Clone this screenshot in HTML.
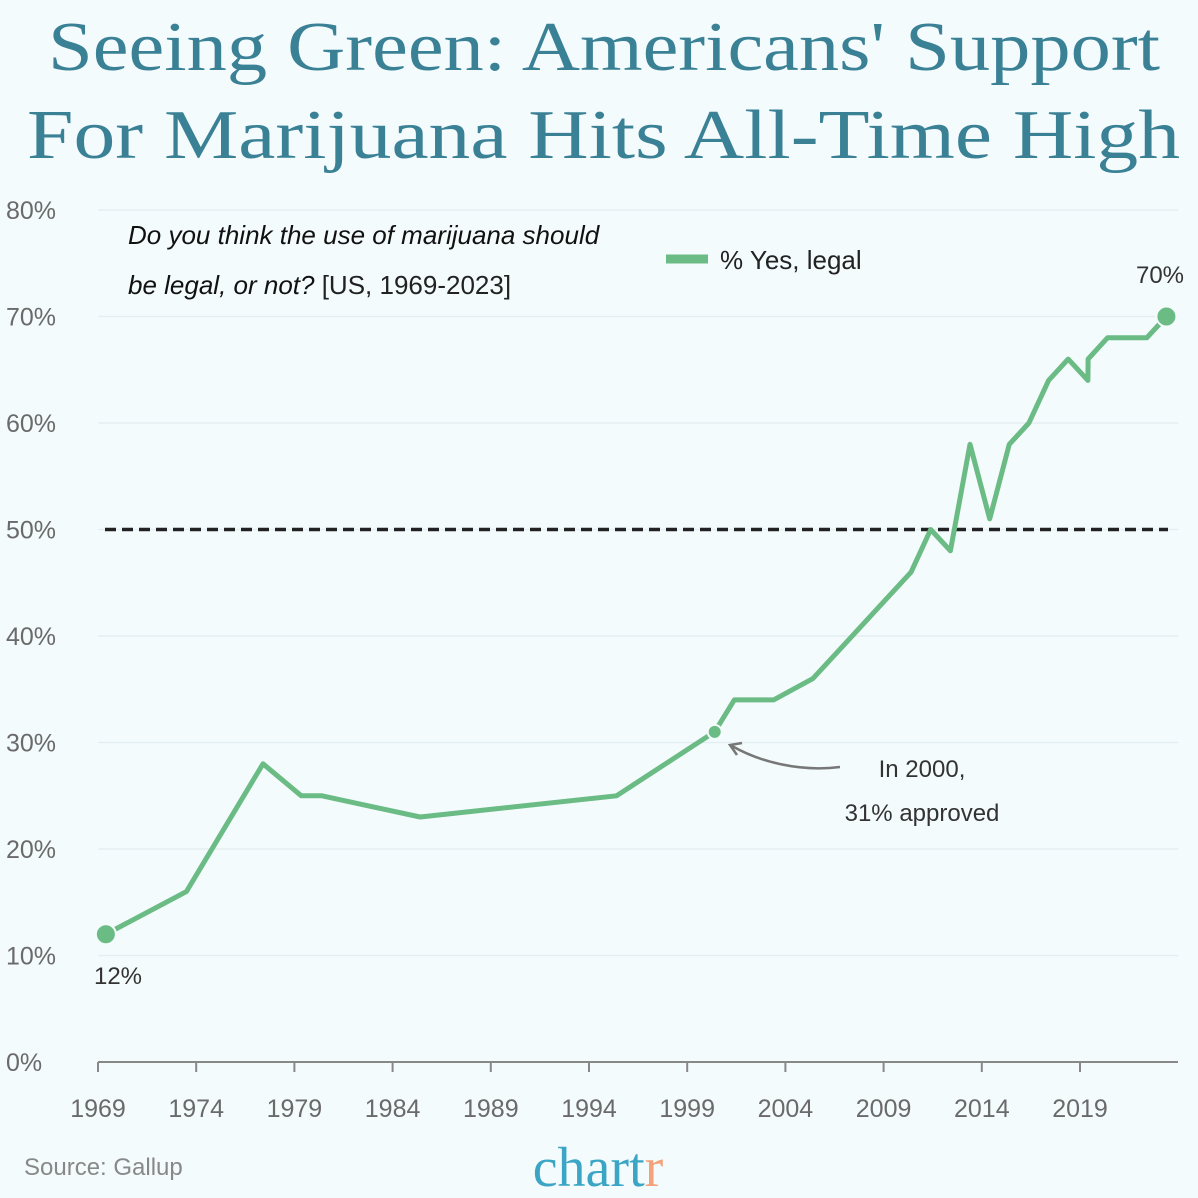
<!DOCTYPE html>
<html><head><meta charset="utf-8"><style>
html,body{margin:0;padding:0;background:#f3fbfd;}
svg{display:block;font-family:"Liberation Sans",sans-serif;}
</style></head><body>
<svg id="chart" width="1198" height="1198" viewBox="0 0 1198 1198">
<rect width="1198" height="1198" fill="#f3fbfd"/>
<g fill="#3a8196" font-family="Liberation Serif, serif" font-size="70">
<text x="48" y="70" textLength="1112" lengthAdjust="spacingAndGlyphs">Seeing Green: Americans' Support</text>
<text x="27" y="158" textLength="1153" lengthAdjust="spacingAndGlyphs">For Marijuana Hits All-Time High</text>
</g>
<g id="grid"></g>
<g id="yaxis"></g>
<g id="xaxis"></g>
<line id="ref50" stroke="#222" stroke-width="3.5" stroke-dasharray="11,6"/>
<path id="line" fill="none" stroke="#6bbb85" stroke-width="5" stroke-linejoin="round"/>
<g id="dots"></g>
<text x="128" y="244" font-size="26" font-style="italic" fill="#111">Do you think the use of marijuana should</text>
<text x="128" y="294" font-size="26" fill="#222"><tspan font-style="italic" fill="#111">be legal, or not?</tspan> [US, 1969-2023]</text>
<line x1="666" y1="259" x2="708" y2="259" stroke="#6bbb85" stroke-width="9"/>
<text x="720" y="269" font-size="26" fill="#222">% Yes, legal</text>
<text x="1160" y="283" font-size="24" fill="#333" text-anchor="middle">70%</text>
<text x="118" y="984" font-size="24" fill="#333" text-anchor="middle">12%</text>
<path d="M840 767 C800 772 760 762 732 746" fill="none" stroke="#777" stroke-width="2.5"/>
<path d="M742 743 L730 745 L737 755" fill="none" stroke="#777" stroke-width="2.5"/>
<text x="922" y="777" font-size="24" fill="#333" text-anchor="middle">In 2000,</text>
<text x="922" y="821" font-size="24" fill="#333" text-anchor="middle">31% approved</text>
<text x="24" y="1175" font-size="24" fill="#888">Source: Gallup</text>
<text x="598" y="1186" font-size="56" fill="#3aa5c4" text-anchor="middle" font-family="Liberation Serif, serif">chart<tspan fill="#f3a27a">r</tspan></text>
</svg>
<script>
const years = [1969.4,1973.5,1977.4,1979.35,1980.4,1985.4,1995.4,2000.4,2001.4,2003.4,2005.4,2010.4,2011.4,2012.4,2013.4,2014.4,2015.4,2016.4,2017.4,2018.4,2019.4,2019.41,2020.4,2022.4,2023.4];
const values = [12,16,28,25,25,23,25,31,34,34,36,46,50,48,58,51,58,60,64,66,64,66,68,68,70];
const yTicks = [0,10,20,30,40,50,60,70,80];
const xTicks = [1969,1974,1979,1984,1989,1994,1999,2004,2009,2014,2019];
const highlightIdx = [0,7,24];
const X = y => 98 + (y - 1969) * 19.64;
const Y = v => 1062 - v * 10.65;
const NS = "http://www.w3.org/2000/svg";
function mk(tag, attrs, parent, txt){const e=document.createElementNS(NS,tag);for(const k in attrs)e.setAttribute(k,attrs[k]);if(txt!==undefined)e.textContent=txt;parent.appendChild(e);return e;}
const grid=document.getElementById('grid'), ya=document.getElementById('yaxis'), xa=document.getElementById('xaxis');
yTicks.forEach(t=>{
  if(t>0){const g=mk('line',{x1:98,x2:1178,y1:Y(t),y2:Y(t),stroke:'#e4eef0','stroke-width':1.5},grid);
  
  }
  const l=mk('text',{x:6,y:Y(t)+9,'font-size':25,fill:'#6a6a6a'},ya,t+'%');
  
  
});
const ax=mk('line',{x1:98,x2:1178,y1:1062,y2:1062,stroke:'#888','stroke-width':2},xa);


xTicks.forEach(t=>{
  const tk=mk('line',{x1:X(t),x2:X(t),y1:1062,y2:1072,stroke:'#888','stroke-width':2},xa);
  
  
  const l=mk('text',{x:X(t),y:1117,'font-size':25,fill:'#6a6a6a','text-anchor':'middle'},xa,String(t));
  
  
});
const r=document.getElementById('ref50');
r.setAttribute('x1',105);r.setAttribute('x2',1168);r.setAttribute('y1',Y(50));r.setAttribute('y2',Y(50));
document.getElementById('line').setAttribute('d',years.map((y,i)=>(i?'L':'M')+X(y).toFixed(1)+' '+Y(values[i]).toFixed(1)).join(' '));
const dots=document.getElementById('dots');
highlightIdx.forEach((i,k)=>{
  const c=mk('circle',{cx:X(years[i]),cy:Y(values[i]),r:k===1?7:10,fill:'#6bbb85',stroke:'#f3fbfd','stroke-width':2},dots);
  
  
});
</script>
</body></html>
